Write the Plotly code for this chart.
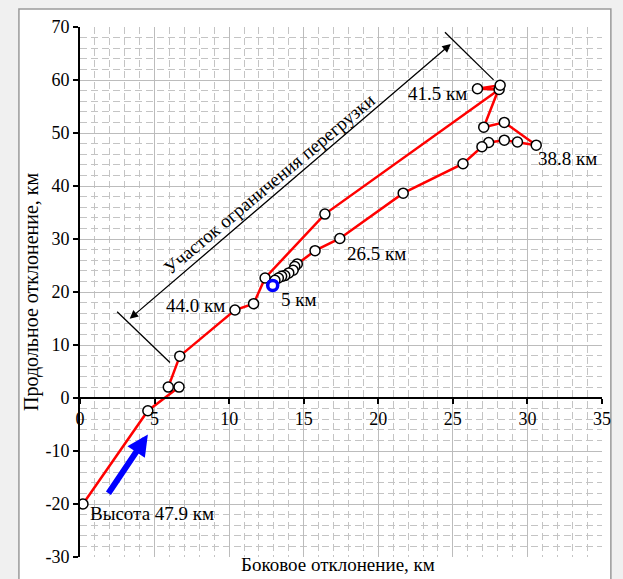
import plotly.graph_objects as go

# Trajectory: lateral (x) and longitudinal (y) deviation, km
lateral = [0.2, 4.55, 6.64, 5.92, 6.69, 10.39, 11.64, 12.41, 16.42, 28.1, 26.65, 28.17,
           27.07, 28.45, 30.59, 29.33, 28.45, 27.4, 26.95, 25.68, 21.67, 17.42, 15.76,
           14.57, 14.4, 14.29, 14.0, 13.73, 13.52, 13.3, 13.07, 12.92]
longitudinal = [-20.0, -2.4, 2.06, 2.06, 7.9, 16.6, 17.8, 22.65, 34.7, 58.2, 58.35, 59.0,
                51.1, 52.0, 47.7, 48.3, 48.65, 48.2, 47.4, 44.2, 38.65, 30.1, 27.8,
                25.3, 24.8, 24.1, 23.6, 23.1, 22.95, 22.65, 22.2, 21.25]

# Altitude labels: text, x, y (left anchor)
alt_text = ["Высота 47.9 км", "44.0 км", "41.5 км", "38.8 км", "26.5 км", "5 км"]
alt_x = [0.55, 5.6, 21.85, 30.6, 17.8, 13.35]
alt_y = [-21.8, 17.45, 57.5, 45.2, 27.2, 18.6]

# Overload-limited segment (double arrow) and its end marks
seg_start = (3.23, 14.7)
seg_end = (24.86, 66.8)
seg_ticks = [((2.49, 16.26), (6.03, 6.7)), ((24.47, 69.0), (27.73, 60.03))]
seg_label = "Участок ограничения перегрузки"

# Flight direction arrow
dir_tail = (1.84, -18.25)
dir_head = (4.55, -6.9)

x_ticks = [0, 5, 10, 15, 20, 25, 30, 35]
y_ticks = [-30, -20, -10, 0, 10, 20, 30, 40, 50, 60, 70]

FONT = "Liberation Serif, Times New Roman, serif"

fig = go.Figure()

fig.add_trace(go.Scatter(
    x=lateral, y=longitudinal, mode="lines+markers",
    line=dict(color="#ff0000", width=2.5),
    marker=dict(symbol="circle", size=10, color="white",
                line=dict(color="black", width=1.5)),
    hoverinfo="skip", showlegend=False,
))
# final point
fig.add_trace(go.Scatter(
    x=[lateral[-1]], y=[longitudinal[-1]], mode="markers",
    marker=dict(symbol="circle", size=10, color="white",
                line=dict(color="#0000ff", width=3.5)),
    hoverinfo="skip", showlegend=False,
))

# outer chart frame
fig.add_shape(type="rect", xref="paper", yref="paper",
              x0=-0.117, x1=1.017, y0=-0.09, y1=1.034,
              fillcolor="white", line=dict(color="#9a9a9a", width=1.5),
              layer="below")

for (p0, p1) in seg_ticks:
    fig.add_shape(type="line", xref="x", yref="y",
                  x0=p0[0], y0=p0[1], x1=p1[0], y1=p1[1],
                  line=dict(color="black", width=1.3))

fig.add_annotation(x=seg_end[0], y=seg_end[1], ax=seg_start[0], ay=seg_start[1],
                   xref="x", yref="y", axref="x", ayref="y", text="",
                   showarrow=True, arrowhead=2, arrowside="end+start",
                   arrowsize=1.3, arrowwidth=1.3, arrowcolor="black", standoff=0,
                   startstandoff=0)
fig.add_annotation(x=12.72, y=40.4, xref="x", yref="y", text=seg_label,
                   showarrow=False, textangle=-40,
                   font=dict(family=FONT, size=19, color="black"))

fig.add_annotation(x=dir_head[0], y=dir_head[1], ax=dir_tail[0], ay=dir_tail[1],
                   xref="x", yref="y", axref="x", ayref="y", text="",
                   showarrow=True, arrowhead=2, arrowsize=0.7, arrowwidth=6,
                   arrowcolor="#0000ff", standoff=0)

for t, x, y in zip(alt_text, alt_x, alt_y):
    fig.add_annotation(x=x, y=y, xref="x", yref="y", text=t, showarrow=False,
                       xanchor="left", yanchor="middle",
                       font=dict(family=FONT, size=19, color="black"))

# axis titles
fig.add_annotation(x=0.494, y=-0.036, xref="paper", yref="paper",
                   text="Боковое отклонение, км", showarrow=False,
                   xanchor="center", yanchor="bottom", borderpad=0,
                   font=dict(family=FONT, size=19, color="black"))
fig.add_annotation(x=-0.094, y=0.5, xref="paper", yref="paper",
                   text="Продольное отклонение, км", showarrow=False,
                   textangle=-90, xanchor="center", yanchor="middle",
                   font=dict(family=FONT, size=20, color="black"))

grid_minor = dict(showgrid=True, gridcolor="#c4c4c4", gridwidth=1, griddash="7px,4px",
                  ticks="")

fig.update_xaxes(
    range=[0, 35], tickvals=x_ticks, ticktext=[str(v) for v in x_ticks],
    anchor="free", position=0.3,
    showline=True, linecolor="black", linewidth=1.5,
    ticks="outside", ticklen=5, tickcolor="black", tickwidth=1.5,
    showgrid=True, gridcolor="#bcbcbc", gridwidth=1.2, zeroline=False,
    minor=dict(dtick=1, **grid_minor),
    tickfont=dict(family=FONT, size=18, color="black"),
    fixedrange=True,
)
fig.update_yaxes(
    range=[-30, 70], tickvals=y_ticks, ticktext=[str(v) for v in y_ticks],
    showline=True, linecolor="black", linewidth=2,
    ticks="outside", ticklen=5, tickcolor="black", tickwidth=1.5,
    showgrid=True, gridcolor="#bcbcbc", gridwidth=1.2, zeroline=False,
    minor=dict(dtick=2, **grid_minor),
    tickfont=dict(family=FONT, size=18, color="black"),
    fixedrange=True,
)

fig.update_layout(
    width=623, height=579,
    margin=dict(l=80, r=13, t=27, b=19),
    paper_bgcolor="#f0f0f0", plot_bgcolor="white",
    showlegend=False,
)

fig.write_html("out.html")
